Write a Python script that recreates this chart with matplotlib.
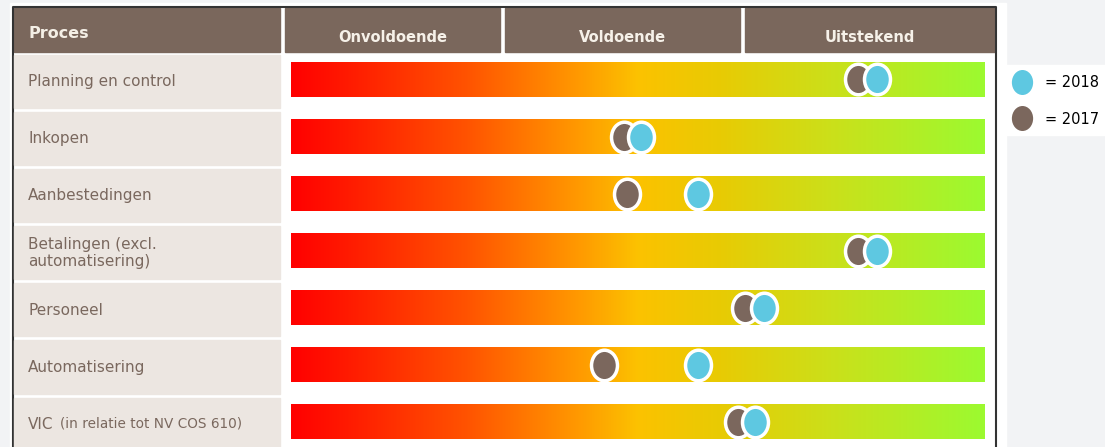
import numpy as np
import matplotlib.pyplot as plt
from matplotlib.colors import LinearSegmentedColormap
from matplotlib.patches import Rectangle
from matplotlib.path import Path
from matplotlib.markers import MarkerStyle
from matplotlib.transforms import Affine2D, blended_transform_factory
from matplotlib.lines import Line2D

# --- data -------------------------------------------------------------
processes = ['Planning en control', 'Inkopen', 'Aanbestedingen',
             'Betalingen (excl.\nautomatisering)', 'Personeel',
             'Automatisering', 'VIC']
notes = ['', '', '', '', '', '', '(in relatie tot NV COS 610)']
levels = ['Onvoldoende', 'Voldoende', 'Uitstekend']
# score on a 0-100 scale along the bar
score_2017 = [81.7, 48.0, 48.4, 81.7, 65.4, 45.1, 64.4]
score_2018 = [84.4, 50.4, 58.6, 84.4, 68.2, 58.6, 66.9]
years = ['2018', '2017']

# --- style ------------------------------------------------------------
W, H = 1105, 447
brown = '#7a675c'
beige = '#ece6e1'
text_col = '#7a685e'
c2018 = '#5ec8e1'
c2017 = '#7b675d'
grad = LinearSegmentedColormap.from_list('score', [
    (0.0, '#ff0000'), (0.25, '#ff5200'), (0.42, '#ff9c00'),
    (0.5, '#fcc200'), (0.62, '#e8cb04'), (0.78, '#cbe01a'),
    (1.0, '#9cfa30')])
ellipse = Path.unit_circle().transformed(Affine2D().scale(0.85, 1.0))

fig = plt.figure(figsize=(W / 100, H / 100), dpi=100)
fig.patch.set_facecolor('#f2f3f5')

# background axes in pixel units for the table frame
bg = fig.add_axes([0, 0, 1, 1])
bg.set_xlim(0, W)
bg.set_ylim(H, 0)
bg.axis('off')
bg.add_patch(Rectangle((10, 3), 996, H, color='white'))
bg.add_patch(Rectangle((1006, 65), 99, 70, color='white'))

# header row
bg.add_patch(Rectangle((14, 8), 266, 44, color=brown))
bg.text(28, 34, 'Proces', color='#f4efe6', fontsize=11.5, fontweight='bold',
        va='center')
col_edges = [285, 505, 745, 1000]
for i, lev in enumerate(levels):
    x0, x1 = col_edges[i], col_edges[i + 1] - 5
    bg.add_patch(Rectangle((x0, 8), x1 - x0, 44, color=brown))
    bg.text((x0 + x1) / 2, 38, lev, color='#f6f1e9', fontsize=10.5,
            fontweight='bold', ha='center', va='center')
bg.plot([12.5, 12.5, 996, 996], [H, 7, 7, H], color='#333333', lw=1.5)

# main axes: bars on a 0-100 scale, one row per process
ax = fig.add_axes([291 / W, 0, 694 / W, 1])
ax.patch.set_alpha(0)
rows = np.arange(len(processes))
trans = blended_transform_factory(bg.transData, ax.transData)
gradient = np.linspace(0, 1, 512).reshape(1, -1)

for i, name in zip(rows, processes):
    ax.imshow(gradient, cmap=grad, extent=(0, 100, i + 0.3, i - 0.3),
              aspect='auto', interpolation='bilinear')
    ax.add_patch(Rectangle((14, i - 0.43), 266, 0.93, transform=trans,
                           color=beige, zorder=0, clip_on=False))
    t = ax.text(28, i + 0.04, name, transform=trans, color=text_col,
                fontsize=11, va='center', linespacing=1.2, clip_on=False)
    if notes[i]:
        ax.annotate(notes[i], xy=(1, 0), xycoords=t, xytext=(5, 1),
                    textcoords='offset points', color=text_col,
                    fontsize=9.8, va='bottom')

ax.plot(score_2017, rows, ls='none', marker=MarkerStyle(ellipse), ms=22,
        mfc=c2017, mec='white', mew=2.5, clip_on=False, zorder=3)
ax.plot(score_2018, rows, ls='none', marker=MarkerStyle(ellipse), ms=22,
        mfc=c2018, mec='white', mew=2.5, clip_on=False, zorder=4)

ax.set_xlim(0, 100)
ax.set_ylim(6.436, -1.392)
ax.axis('off')

handles = [Line2D([], [], ls='none', marker=MarkerStyle(ellipse), ms=18,
                  mfc=c, mew=0) for c in (c2018, c2017)]
fig.legend(handles, ['= ' + y for y in years], loc='upper left',
           bbox_to_anchor=(1010 / W, 1 - 71 / H), frameon=False,
           fontsize=10.5, handlelength=1.0, handletextpad=1.1,
           labelspacing=1.45, borderaxespad=0, borderpad=0.3)

fig.savefig('out.png', dpi=100, facecolor=fig.get_facecolor())
